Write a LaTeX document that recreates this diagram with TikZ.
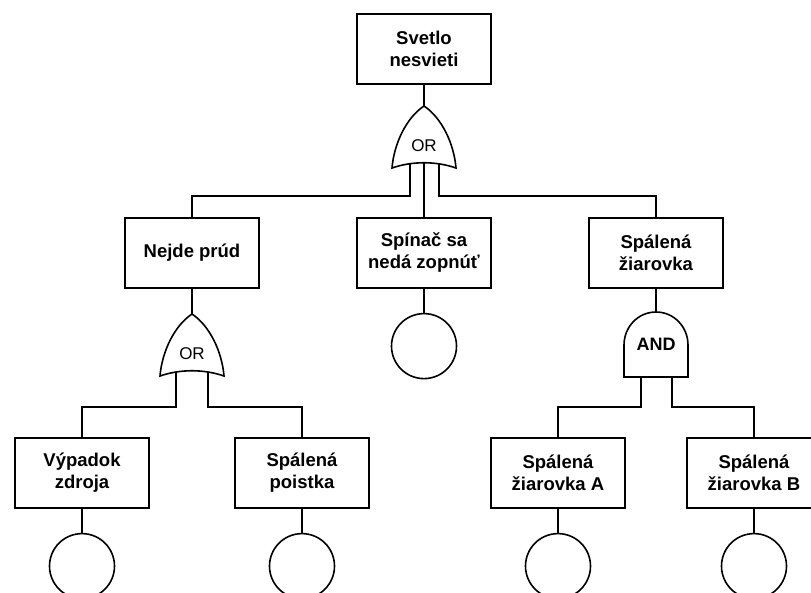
\documentclass[tikz,border=0pt]{standalone}
\usepackage{fontspec}
\setmainfont{Liberation Sans}
\usetikzlibrary{positioning}

\tikzset{
  event/.style={draw, line width=1.6pt, rectangle, minimum width=134pt, minimum height=70pt,
    align=center, inner sep=2pt, font=\bfseries\fontsize{18.5}{22}\selectfont},
  basic/.style={draw, line width=1.6pt, circle, minimum size=65pt, inner sep=0pt},
  wire/.style={line width=1.6pt},
  gate/.style={draw, fill=white, line width=1.6pt, line join=miter}
}

% OR hradlo: #1 meno, #2 stred spodnej hrany
\newcommand{\orgate}[2]{%
  \begin{scope}[shift={(#2)}]
    \draw[gate] (-32,0) .. controls (-30,-24) and (-18,-50) .. (0,-62)
      .. controls (18,-50) and (30,-24) .. (32,0)
      .. controls (12,-7) and (-12,-7) .. cycle;
    \node[font=\fontsize{17}{20}\selectfont] at (0,-22) {OR};
    \coordinate (#1-top) at (0,-62);
  \end{scope}}

% AND hradlo
\newcommand{\andgate}[2]{%
  \begin{scope}[shift={(#2)}]
    \draw[gate] (-32,0) -- (-32,-32) .. controls (-32,-50) and (-18,-65) .. (0,-65)
      .. controls (18,-65) and (32,-50) .. (32,-32) -- (32,0) -- cycle;
    \node[font=\bfseries\fontsize{18}{20}\selectfont] at (0,-33) {AND};
    \coordinate (#1-top) at (0,-65);
  \end{scope}}

\begin{document}
\begin{tikzpicture}[x=1pt, y=-1pt]
  \fill[white] (0,0) rectangle (811,592);
  \clip (0,0) rectangle (811,592);

  % udalosti
  \node[event] (svetlo) at (424,49) {Svetlo\\nesvieti};
  \node[event] (prud) at (192,253) {Nejde prúd};
  \node[event] (spinac) at (424,253) {Spínač sa\\nedá zopnúť};
  \node[event] (ziarovka) at (656,253) {Spálená\\žiarovka};
  \node[event] (vypadok) at (82,473) {Výpadok\\zdroja};
  \node[event] (poistka) at (302,473) {Spálená\\poistka};
  \node[event] (ziarA) at (558,473) {Spálená\\žiarovka A};
  \node[event] (ziarB) at (754,473) {Spálená\\žiarovka B};

  % zakladne udalosti
  \node[basic, below=24pt of spinac] (spinac-b) {};
  \node[basic, below=24pt of vypadok] (vypadok-b) {};
  \node[basic, below=24pt of poistka] (poistka-b) {};
  \node[basic, below=24pt of ziarA] (ziarA-b) {};
  \node[basic, below=24pt of ziarB] (ziarB-b) {};

  % hradla (stred spodnej hrany)
  \coordinate (g1) at (424,168);
  \coordinate (g2) at (192,376);
  \coordinate (g3) at (656,377);

  % spoje
  \draw[wire] (svetlo.south) -- (424,110);
  \draw[wire] (g1) ++(-14,-8) -- ++(0,36) -| (prud.north);
  \draw[wire] (g1) ++(0,-8) -- (spinac.north);
  \draw[wire] (g1) ++(15,-8) -- ++(0,36) -| (ziarovka.north);

  \draw[wire] (prud.south) -- (192,316);
  \draw[wire] (g2) ++(-16,-8) -- ++(0,39) -| (vypadok.north);
  \draw[wire] (g2) ++(16,-8) -- ++(0,39) -| (poistka.north);

  \draw[wire] (ziarovka.south) -- (656,314);
  \draw[wire] (g3) ++(-15,-8) -- ++(0,38) -| (ziarA.north);
  \draw[wire] (g3) ++(16,-8) -- ++(0,38) -| (ziarB.north);

  \foreach \e in {spinac, vypadok, poistka, ziarA, ziarB}
    \draw[wire] (\e.south) -- (\e-b.north);

  \orgate{or1}{g1}
  \orgate{or2}{g2}
  \andgate{and1}{g3}
\end{tikzpicture}
\end{document}
